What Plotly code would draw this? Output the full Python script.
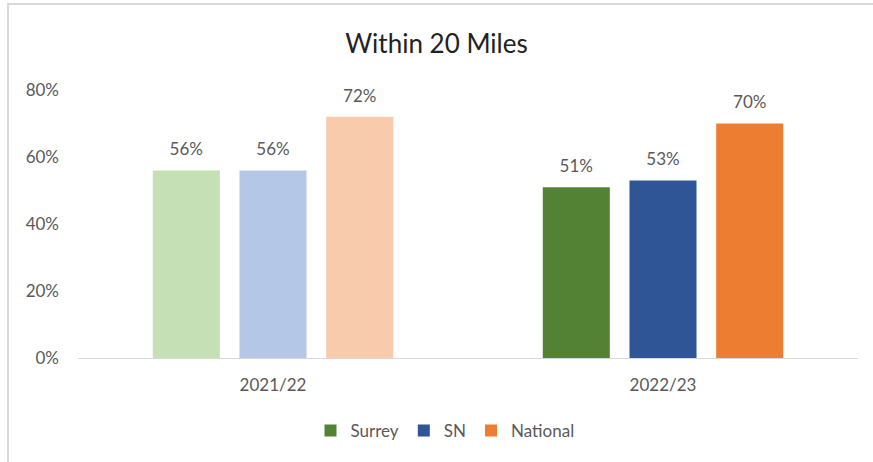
import plotly.graph_objects as go

categories = ["2021/22", "2022/23"]
series_names = ["Surrey", "SN", "National"]
surrey = [0.56, 0.51]
sn = [0.56, 0.53]
national = [0.72, 0.70]
y_ticks = [0, 0.2, 0.4, 0.6, 0.8]
y_tick_labels = ["0%", "20%", "40%", "60%", "80%"]

# per-period colours (light = 2021/22, dark = 2022/23)
colors = {
    "Surrey": ["#c5e0b4", "#548235"],
    "SN": ["#b4c7e7", "#2f5597"],
    "National": ["#f8cbad", "#ed7d31"],
}
values = {"Surrey": surrey, "SN": sn, "National": national}

FONT = "Lato"
GREY = "#595959"
BARGAP = 0.333

fig = go.Figure()
for name in series_names:
    for i, cat in enumerate(categories):
        fig.add_trace(go.Bar(
            x=[cat], y=[values[name][i]], name=name,
            offsetgroup=name, legendgroup=name,
            showlegend=(i == len(categories) - 1),
            marker=dict(color=colors[name][i], line=dict(width=0)),
            hoverinfo="skip",
        ))
# value labels (invisible markers to give the labels some clearance above the bars)
for name in series_names:
    fig.add_trace(go.Scatter(
        x=categories, y=values[name], mode="markers+text",
        offsetgroup=name, showlegend=False, hoverinfo="skip",
        marker=dict(size=16, opacity=0),
        text=[f"{v:.0%}" for v in values[name]],
        textposition="top center",
        textfont=dict(family=FONT, size=17, color=GREY),
        cliponaxis=False,
    ))

W, H = 873, 462
L, R, T, B = 78, 15, 90, 104
pw, ph = W - L - R, H - T - B


def px(x):
    return (x - L) / pw


def py(y):
    return (H - B - y) / ph


fig.update_layout(
    width=W, height=H,
    margin=dict(l=L, r=R, t=T, b=B),
    paper_bgcolor="white", plot_bgcolor="white",
    barmode="group", bargap=BARGAP, bargroupgap=0.227,
    scattermode="group", scattergap=BARGAP,
    title=dict(text="Within 20 Miles", x=0.5, xanchor="center",
               y=1 - 44 / H, yanchor="middle",
               font=dict(family=FONT, size=26, color="#222222")),
    font=dict(family=FONT, color=GREY),
    showlegend=True,
    legend=dict(orientation="h", x=px(445), xanchor="center",
                y=py(431), yanchor="middle",
                font=dict(family=FONT, size=17, color=GREY),
                itemwidth=30, traceorder="normal"),
    xaxis=dict(showline=True, linecolor="#d9d9d9", linewidth=1,
               showgrid=False, ticks="", ticklabelstandoff=12,
               tickfont=dict(family=FONT, size=17, color=GREY)),
    yaxis=dict(range=[0, 0.8], tickvals=y_ticks, ticktext=y_tick_labels,
               showgrid=False, showline=False, zeroline=False, ticks="",
               ticklabelstandoff=18,
               tickfont=dict(family=FONT, size=17, color=GREY)),
    shapes=[
        dict(type="line", xref="paper", yref="paper",
             x0=px(7), x1=px(873), y0=py(4), y1=py(4),
             line=dict(color="#d9d9d9", width=2)),
        dict(type="line", xref="paper", yref="paper",
             x0=px(8), x1=px(8), y0=py(4), y1=py(462),
             line=dict(color="#d9d9d9", width=2)),
    ],
)

fig.write_html(
    "out.html",
    config={"displayModeBar": False},
    post_script="document.body.style.margin='0';document.body.style.overflow='hidden';",
)
